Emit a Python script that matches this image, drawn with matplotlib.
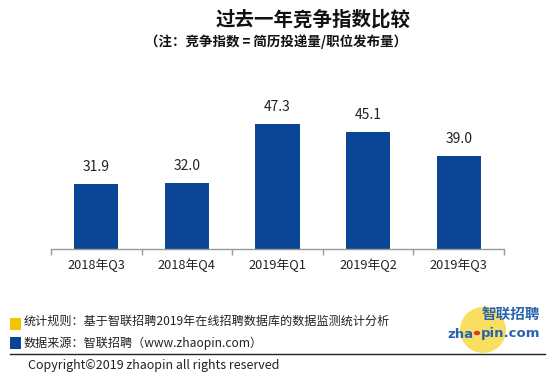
import matplotlib
matplotlib.use("Agg")
import matplotlib.pyplot as plt
from matplotlib.patches import Rectangle, Circle, Ellipse
from matplotlib.lines import Line2D

plt.rcParams['font.family'] = ['Noto Sans CJK SC', 'DejaVu Sans']

categories = ["2018年Q3", "2018年Q4", "2019年Q1", "2019年Q2", "2019年Q3"]
values = [31.9, 32.0, 47.3, 45.1, 39.0]
value_labels = ["31.9", "32.0", "47.3", "45.1", "39.0"]

title = "过去一年竞争指数比较"
subtitle = "（注：竞争指数 = 简历投递量/职位发布量）"
note1 = "统计规则：基于智联招聘2019年在线招聘数据库的数据监测统计分析"
note2 = "数据来源：智联招聘（www.zhaopin.com）"
copyright_text = "Copyright©2019 zhaopin all rights reserved"

W, H = 554, 382
fig = plt.figure(figsize=(W / 100, H / 100), dpi=100)
fig.patch.set_facecolor("white")

def fx(x):
    return x / W

def fy(y):
    return 1 - y / H

# axes: x 51..504, baseline y=249, top y=100
ax = fig.add_axes([fx(51), fy(249), (504 - 51) / W, (249 - 100) / H])
x = list(range(len(categories)))
bar_color = "#0b4595"
bars = ax.bar(x, values, width=0.49, color=bar_color, zorder=2)
ax.set_xlim(-0.5, len(categories) - 0.5)
ax.set_ylim(15.2, 53.4)
for xi, v, lab in zip(x, values, value_labels):
    ax.text(xi, v + 2.6, lab, ha="center", va="bottom", fontsize=10, color="#222222")

for s in ["top", "right", "left"]:
    ax.spines[s].set_visible(False)
ax.spines["bottom"].set_color("#9a9a9a")
ax.spines["bottom"].set_linewidth(1.0)
ax.set_yticks([])
ax.set_xticks(x)
ax.set_xticklabels(categories, fontsize=9.2, color="#222222")
ax.tick_params(axis="x", which="major", length=0, pad=7)
ax.set_xticks([i - 0.5 for i in range(len(categories) + 1)], minor=True)
ax.tick_params(axis="x", which="minor", length=4, color="#9a9a9a", width=1.0)
ax.patch.set_alpha(0)

# titles
fig.text(fx(313), fy(20), title, ha="center", va="center", fontsize=14, fontweight="bold", color="#111111")
fig.text(fx(276), fy(42), subtitle, ha="center", va="center", fontsize=9.7, fontweight="bold", color="#111111")

# legend-like notes
fig.add_artist(Rectangle((fx(10), fy(330)), 11 / W, 12 / H, transform=fig.transFigure, color="#f2c500", lw=0))
fig.add_artist(Rectangle((fx(10), fy(349)), 11 / W, 12 / H, transform=fig.transFigure, color="#0b4595", lw=0))
fig.text(fx(24), fy(321), note1, ha="left", va="center", fontsize=8.7, color="#222222")
fig.text(fx(24), fy(343), note2, ha="left", va="center", fontsize=8.7, color="#222222")
fig.add_artist(Line2D([fx(10), fx(545)], [fy(354), fy(354)], transform=fig.transFigure, color="#222222", lw=1.0))
fig.text(fx(28), fy(366), copyright_text, ha="left", va="center", fontsize=9, color="#222222")

# logo
fig.add_artist(Ellipse((fx(483), fy(330)), 46 / W, 46 / H, transform=fig.transFigure, color="#f8d83a", alpha=0.8, lw=0))
fig.text(fx(511), fy(314), "智联招聘", ha="center", va="center", fontsize=10.5, fontweight="bold",
         style="italic", color="#2a63ad")
fig.text(fx(473), fy(334), "zha", ha="right", va="center", fontsize=9.5, fontweight="bold", color="#2a63ad",
         family="DejaVu Sans")
fig.add_artist(Circle((fx(477), fy(333)), 3.2 / W, transform=fig.transFigure, color="#d63a2a", lw=0))
fig.text(fx(481), fy(334), "pin.com", ha="left", va="center", fontsize=9.5, fontweight="bold", color="#2a63ad",
         family="DejaVu Sans")

fig.savefig("out.png", dpi=100, facecolor="white")
